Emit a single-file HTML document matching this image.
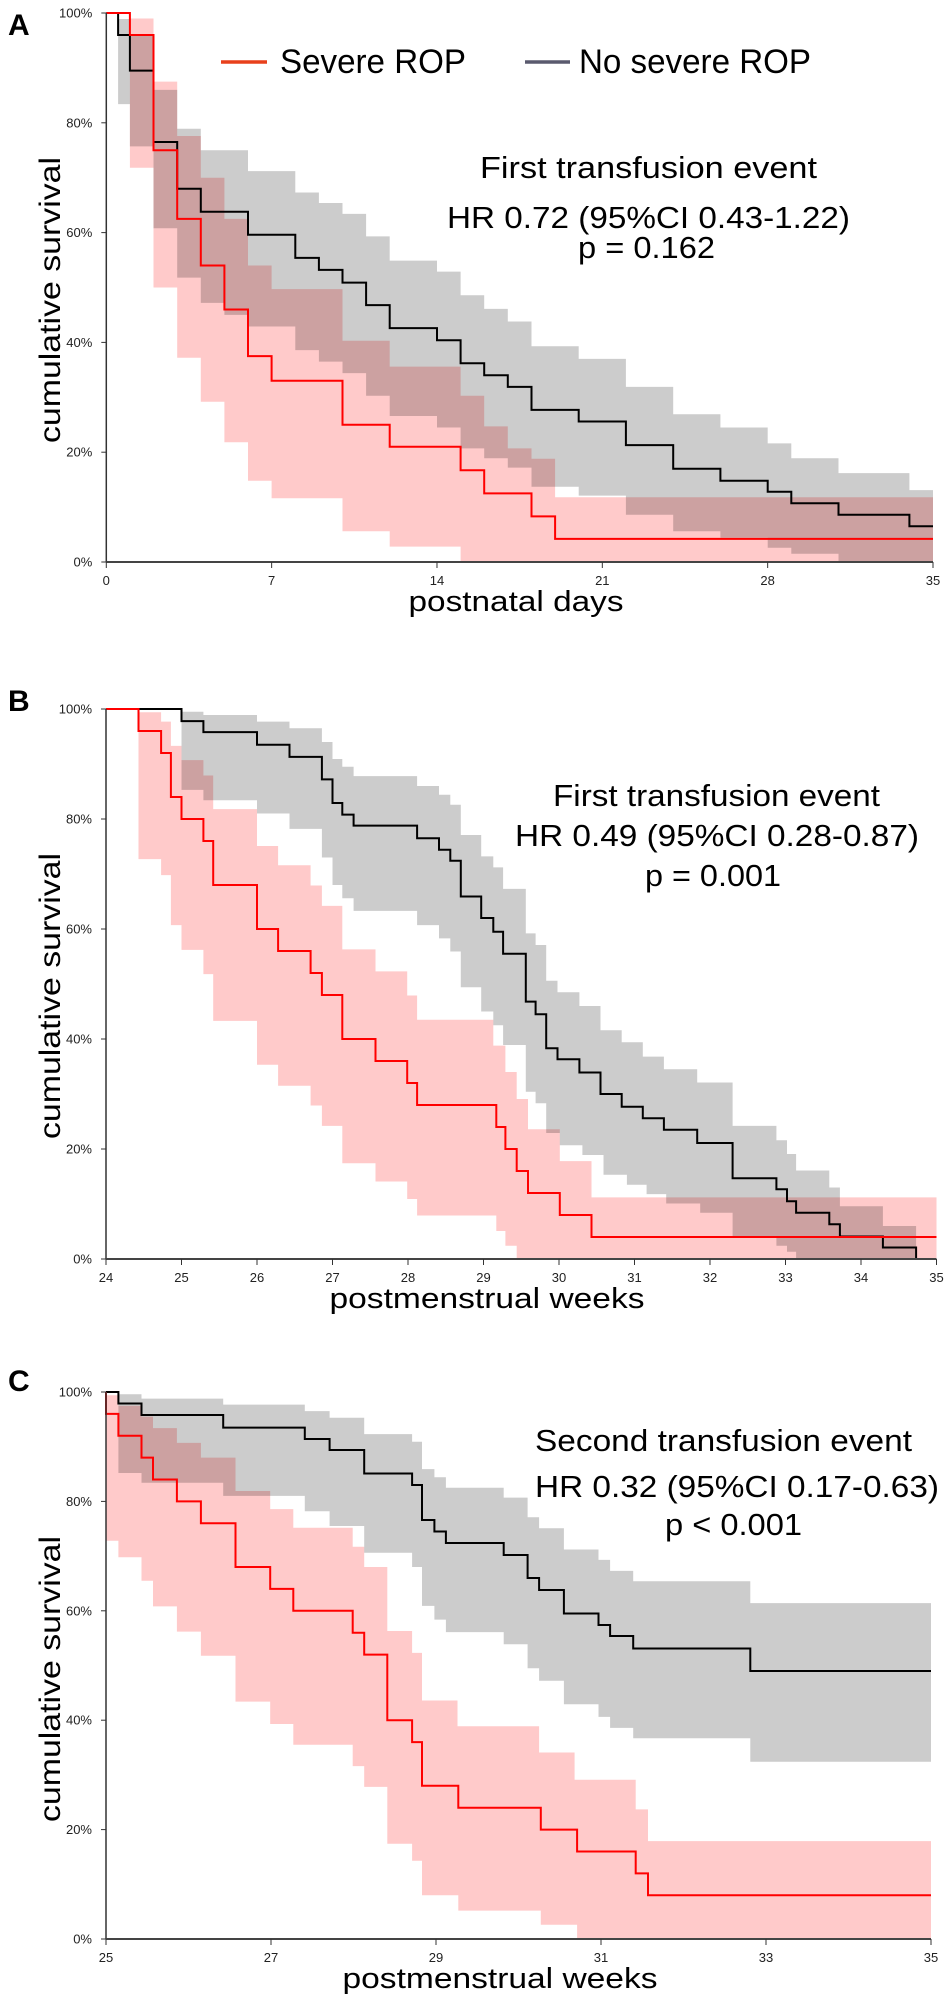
<!DOCTYPE html>
<html><head><meta charset="utf-8"><style>
html,body{margin:0;padding:0;background:#fff;}
svg{display:block;font-family:"Liberation Sans",Arial,sans-serif;}
.band-red{mix-blend-mode:multiply;}
</style></head><body>
<svg id="chart" width="945" height="2005" viewBox="0 0 945 2005" xmlns="http://www.w3.org/2000/svg">
<g id="layer-bands"></g>
<g id="layer-lines"></g>
<g id="layer-axes"></g>
<g id="layer-text">
  <text x="8" y="35" font-size="30" font-weight="bold">A</text>
  <text x="8" y="711" font-size="30" font-weight="bold">B</text>
  <text x="8" y="1391" font-size="30" font-weight="bold">C</text>
  <g>
    <line x1="221" y1="62" x2="267" y2="62" stroke="#e8401c" stroke-width="3.5"/>
    <text x="280" y="73" font-size="34" textLength="186" lengthAdjust="spacingAndGlyphs">Severe ROP</text>
    <line x1="525" y1="62" x2="570" y2="62" stroke="#5a5a6e" stroke-width="3.5"/>
    <text x="579" y="73" font-size="34" textLength="232" lengthAdjust="spacingAndGlyphs">No severe ROP</text>
  </g>
  <g font-size="31">
    <text x="480" y="178" textLength="337" lengthAdjust="spacingAndGlyphs">First  transfusion event</text>
    <text x="447" y="228" textLength="403" lengthAdjust="spacingAndGlyphs">HR 0.72 (95%CI 0.43-1.22)</text>
    <text x="578" y="258" textLength="137" lengthAdjust="spacingAndGlyphs">p = 0.162</text>
  </g>
  <g font-size="31">
    <text x="553" y="806" textLength="327" lengthAdjust="spacingAndGlyphs">First transfusion event</text>
    <text x="515" y="846" textLength="404" lengthAdjust="spacingAndGlyphs">HR 0.49 (95%CI 0.28-0.87)</text>
    <text x="645" y="886" textLength="136" lengthAdjust="spacingAndGlyphs">p = 0.001</text>
  </g>
  <g font-size="31">
    <text x="535" y="1451" textLength="377" lengthAdjust="spacingAndGlyphs">Second transfusion event</text>
    <text x="535" y="1497" textLength="404" lengthAdjust="spacingAndGlyphs">HR 0.32 (95%CI 0.17-0.63)</text>
    <text x="665" y="1535" textLength="137" lengthAdjust="spacingAndGlyphs">p &lt; 0.001</text>
  </g>
</g>
</svg>
<script>
// ---------- Panel A data (postnatal days) ----------
const aXTicks = [0, 7, 14, 21, 28, 35];
const aRedT = [0,1,2,3,4,5,6,7,10,12,15,16,18,19];
const aRedV = [100,96,75,62.5,54,46,37.5,33,25,21,16.7,12.5,8.3,4.2];
const aRedUpT = [0,1,2,3,4,5,6,7,10,12,15,16,17,18,19];
const aRedUpV = [100,99,87.5,77.6,70,62.5,54,49.7,40.3,35.6,30.3,24.7,20.7,18.8,11.8];
const aRedLoT = [0,1,2,3,4,5,6,7,10,12,15];
const aRedLoV = [100,71.8,50,37.2,29.2,21.8,14.8,11.6,5.6,2.8,0];
const aGrayT = [0,0.5,1,2,3,4,6,8,9,10,11,12,14,15,16,17,18,20,22,24,26,28,29,31,34];
const aGrayV = [100,96,89.5,76.5,68,63.8,59.6,55.4,53.2,50.9,46.8,42.6,40.4,36.2,34,31.9,27.7,25.6,21.3,17,14.8,12.8,10.7,8.6,6.5];
const aGrayUpT = [0,0.5,1,2,3,4,6,8,9,10,11,12,14,15,16,17,18,20,22,24,26,28,29,31,34];
const aGrayUpV = [100,98.9,96,86,78.9,75,71.2,67.3,65.4,63.4,59.3,54.9,52.9,48.6,46.1,43.8,39.3,37,31.9,26.9,24.5,21.6,18.9,16.2,13.1];
const aGrayLoT = [0,0.5,1,2,3,4,5,6,8,9,10,11,12,14,15,16,17,18,19,20,22,24,26,28,29,31];
const aGrayLoV = [100,83.4,75.7,60.8,51.8,47.2,45,42.9,38.6,36.5,34.4,30.3,26.6,24.5,20.7,18.9,17.2,13.7,13.7,12.1,8.6,5.6,4.4,2.6,1.5,0];

// ---------- Panel B data (postmenstrual weeks) ----------
const bXTicks = [24,25,26,27,28,29,30,31,32,33,34,35];
const bRedT = [24,24.43,24.73,24.86,25.0,25.29,25.42,26.0,26.28,26.71,26.86,27.13,27.57,27.99,28.12,29.17,29.29,29.44,29.59,30.01,30.43];
const bRedV = [100,96,92,84,80,76,68,60,56,52,48,40,36,32,28,24,20,16,12,8,4];
const bRedUpT = [24,24.43,24.73,24.86,25.0,25.29,25.42,26.0,26.28,26.71,26.86,27.13,27.57,27.99,28.12,29.13,29.29,29.44,29.59,30.01,30.43];
const bRedUpV = [100,99.4,97.7,93.3,90.7,87.9,81.8,75.1,71.6,67.9,64.2,56.3,52.3,47.9,43.5,38.8,34,29.1,23.6,17.8,11.2];
const bRedLoT = [24,24.43,24.73,24.86,25.0,25.29,25.42,26.0,26.28,26.71,26.86,27.13,27.57,27.99,28.12,29.17,29.29,29.44];
const bRedLoV = [100,72.7,69.8,60.7,56.2,51.8,43.3,35.3,31.5,27.9,24.2,17.4,14.1,10.9,7.9,5.1,2.4,0];
const bGrayT = [24,25.0,25.29,26.0,26.43,26.86,27.0,27.13,27.28,28.12,28.41,28.56,28.70,28.97,29.13,29.26,29.56,29.69,29.83,29.98,30.27,30.55,30.83,31.11,31.39,31.83,32.30,32.88,33.02,33.14,33.58,33.72,34.29,34.73];
const bGrayV = [100,97.8,95.8,93.5,91.3,87.2,82.9,80.8,78.8,76.5,74.4,72.4,65.9,62.0,59.5,55.5,46.8,44.5,38.3,36.3,33.9,30,27.7,25.6,23.5,21.1,14.7,12.7,10.5,8.4,6.3,4.1,2.1,0];
const bGrayUpT = [24,25.0,25.29,26.0,26.43,26.86,27.0,27.13,27.28,28.12,28.41,28.56,28.70,28.97,29.13,29.26,29.56,29.69,29.83,29.98,30.27,30.55,30.83,31.11,31.39,31.83,32.30,32.88,33.02,33.14,33.58,33.72,34.29,34.73];
const bGrayUpV = [100,99.5,98.9,97.7,96.5,94,90.9,89.5,87.8,86,84.4,82.6,77.1,73.2,71.2,67.3,59.2,57.1,50.6,48.5,46,41.6,39.4,36.8,34.5,32.1,24.2,21.6,19.1,16.1,13,9.6,6,0];
const bGrayLoT = [24,25.0,25.29,26.0,26.43,26.86,27.0,27.13,27.28,28.12,28.41,28.56,28.70,28.97,29.13,29.26,29.56,29.69,29.83,30.01,30.31,30.59,30.90,31.16,31.42,31.87,32.30,32.88,33.02,33.14];
const bGrayLoV = [100,85.3,83.4,81,78.2,73,68,65.6,63.3,60.7,58.3,55.9,49.4,45,42.5,38.9,30.4,28.3,22.9,20.7,18.9,15.3,13.5,11.8,10.1,8.4,4.1,2.4,1.3,0];

// ---------- Panel C data (postmenstrual weeks) ----------
const cXTicks = [25,27,29,31,33,35];
const cRedT = [25,25,25.15,25.43,25.57,25.86,26.15,26.57,26.99,27.27,27.99,28.13,28.41,28.71,28.83,29.27,30.27,30.71,31.42,31.57];
const cRedV = [100,96,92,88,84,80,76,68,64,60,56,52,40,36,28,24,20,16,12,8];
const cRedUpT = [25,25.15,25.43,25.57,25.86,26.15,26.57,26.99,27.27,27.99,28.13,28.41,28.71,28.83,29.26,30.25,30.68,31.42,31.57];
const cRedUpV = [99.4,97.5,95.5,93.4,90.7,88,81.9,78.6,75.2,71.7,68,56.3,52.3,43.6,38.9,34.1,29.1,23.7,17.9];
const cRedLoT = [25,25.15,25.43,25.57,25.86,26.15,26.57,26.99,27.27,27.99,28.13,28.41,28.71,28.83,29.27,30.27,30.71];
const cRedLoV = [72.8,69.8,65.5,60.8,56.2,51.8,43.4,39.3,35.5,31.6,27.8,17.4,14.3,8.0,5.2,2.6,0];
const cGrayT = [25,25.15,25.43,26.42,27.41,27.71,28.13,28.71,28.83,28.98,29.12,29.82,30.11,30.25,30.55,30.97,31.11,31.39,32.81];
const cGrayV = [100,97.9,95.8,93.5,91.4,89.4,85.1,83,76.6,74.5,72.4,70.2,66,63.8,59.5,57.4,55.4,53.1,49];
const cGrayUpT = [25,25.15,25.43,26.42,27.41,27.71,28.13,28.71,28.83,28.98,29.12,29.82,30.11,30.25,30.55,30.97,31.11,31.39,32.81];
const cGrayUpV = [100,99.6,98.8,97.7,96.5,95.3,92.3,90.9,85.9,84.4,82.5,80.7,77.1,75.1,71.2,69.3,67.3,65.4,61.4];
const cGrayLoT = [25,25.15,25.43,26.42,27.41,27.71,28.13,28.71,28.83,28.98,29.12,29.82,30.11,30.25,30.55,30.97,31.11,31.39,32.81];
const cGrayLoV = [100,85.2,83.4,81,78.2,75.5,70.6,68,60.9,58.4,56.1,53.9,49.5,47.2,42.9,40.6,38.6,36.7,32.4];

const yTicks = [0,20,40,60,80,100];

const NS = "http://www.w3.org/2000/svg";
const gBands = document.getElementById('layer-bands');
const gLines = document.getElementById('layer-lines');
const gAxes = document.getElementById('layer-axes');

function stepPts(T, V, tEnd) {
  const pts = [];
  for (let i = 0; i < T.length; i++) {
    const t1 = i < T.length - 1 ? T[i + 1] : tEnd;
    pts.push([T[i], V[i]], [t1, V[i]]);
  }
  return pts;
}

function panel(p) {
  const sx = t => p.x0 + (t - p.tMin) * (p.x1 - p.x0) / (p.tMax - p.tMin);
  const sy = v => p.y0 - v * (p.y0 - p.y100) / 100;
  const fmt = pts => pts.map(q => sx(q[0]).toFixed(1) + ',' + sy(q[1]).toFixed(1)).join(' ');

  // bands
  const grayPoly = stepPts(p.gUpT, p.gUpV, p.gEnd).concat(stepPts(p.gLoT, p.gLoV, p.gEnd).reverse());
  const gb = document.createElementNS(NS, 'polygon');
  gb.setAttribute('points', fmt(grayPoly));
  gb.setAttribute('fill', '#cccccc');
  
  
  gBands.appendChild(gb);
  const redPoly = stepPts(p.rUpT, p.rUpV, p.rEnd).concat(stepPts(p.rLoT, p.rLoV, p.rEnd).reverse());
  const rb = document.createElementNS(NS, 'polygon');
  rb.setAttribute('points', fmt(redPoly));
  rb.setAttribute('fill', '#ffcaca');
  rb.setAttribute('class', 'band-red');
  
  
  gBands.appendChild(rb);

  // lines
  const gPts = stepPts(p.gT, p.gV, p.gLineEnd);
  const gl = document.createElementNS(NS, 'polyline');
  gl.setAttribute('points', fmt(gPts));
  gl.setAttribute('fill', 'none');
  gl.setAttribute('stroke', '#000');
  gl.setAttribute('stroke-width', '2');
  
  
  gLines.appendChild(gl);
  const rPts = stepPts(p.rT, p.rV, p.rEnd);
  const rl = document.createElementNS(NS, 'polyline');
  rl.setAttribute('points', fmt(rPts));
  rl.setAttribute('fill', 'none');
  rl.setAttribute('stroke', '#ff0000');
  rl.setAttribute('stroke-width', '2');
  
  
  gLines.appendChild(rl);

  // axes
  const ya = document.createElementNS(NS, 'line');
  ya.setAttribute('x1', p.x0); ya.setAttribute('x2', p.x0);
  ya.setAttribute('y1', p.y100); ya.setAttribute('y2', p.y0);
  ya.setAttribute('stroke', '#333'); ya.setAttribute('stroke-width', '1.5');
  
  
  gAxes.appendChild(ya);
  const xa = document.createElementNS(NS, 'line');
  xa.setAttribute('x1', p.x0); xa.setAttribute('x2', p.x1);
  xa.setAttribute('y1', p.y0); xa.setAttribute('y2', p.y0);
  xa.setAttribute('stroke', '#444'); xa.setAttribute('stroke-width', '2');
  
  
  gAxes.appendChild(xa);

  yTicks.forEach(v => {
    const y = sy(v);
    const tk = document.createElementNS(NS, 'line');
    tk.setAttribute('x1', p.x0 - 5); tk.setAttribute('x2', p.x0);
    tk.setAttribute('y1', y); tk.setAttribute('y2', y);
    tk.setAttribute('stroke', '#333'); tk.setAttribute('stroke-width', '1');
    
    
    gAxes.appendChild(tk);
    const tx = document.createElementNS(NS, 'text');
    tx.setAttribute('x', p.x0 - 14); tx.setAttribute('y', y + 4.5);
    tx.setAttribute('text-anchor', 'end'); tx.setAttribute('font-size', '13');
    tx.setAttribute('fill', '#222');
    
    
    tx.textContent = v + '%';
    gAxes.appendChild(tx);
  });
  p.xTicks.forEach(t => {
    const x = sx(t);
    const tk = document.createElementNS(NS, 'line');
    tk.setAttribute('x1', x); tk.setAttribute('x2', x);
    tk.setAttribute('y1', p.y0); tk.setAttribute('y2', p.y0 + 6);
    tk.setAttribute('stroke', '#333'); tk.setAttribute('stroke-width', '1');
    
    
    gAxes.appendChild(tk);
    const tx = document.createElementNS(NS, 'text');
    tx.setAttribute('x', x); tx.setAttribute('y', p.y0 + 23);
    tx.setAttribute('text-anchor', 'middle'); tx.setAttribute('font-size', '13');
    tx.setAttribute('fill', '#222');
    
    
    tx.textContent = t;
    gAxes.appendChild(tx);
  });
  const xt = document.createElementNS(NS, 'text');
  xt.setAttribute('x', p.xTitleX); xt.setAttribute('y', p.y0 + 49);
  xt.setAttribute('text-anchor', 'middle'); xt.setAttribute('font-size', '29');
  xt.setAttribute('textLength', p.xTitleLen); xt.setAttribute('lengthAdjust', 'spacingAndGlyphs');
  
  
  xt.textContent = p.xTitle;
  gAxes.appendChild(xt);
  const yt = document.createElementNS(NS, 'text');
  const cy = p.y100 + 287;
  yt.setAttribute('x', 0); yt.setAttribute('y', 0);
  yt.setAttribute('transform', 'translate(60,' + cy + ') rotate(-90)');
  yt.setAttribute('text-anchor', 'middle'); yt.setAttribute('font-size', '30');
  yt.setAttribute('textLength', '286'); yt.setAttribute('lengthAdjust', 'spacingAndGlyphs');
  
  
  yt.textContent = 'cumulative survival';
  gAxes.appendChild(yt);
}

panel({id:'panel-a', x0:106.3, x1:933, tMin:0, tMax:35, y100:13, y0:562, xTicks:aXTicks,
  rT:aRedT, rV:aRedV, rUpT:aRedUpT, rUpV:aRedUpV, rLoT:aRedLoT, rLoV:aRedLoV, rEnd:35,
  gT:aGrayT, gV:aGrayV, gUpT:aGrayUpT, gUpV:aGrayUpV, gLoT:aGrayLoT, gLoV:aGrayLoV, gEnd:35, gLineEnd:35,
  xTitle:'postnatal days', xTitleX:516, xTitleLen:215});
panel({id:'panel-b', x0:106, x1:936.5, tMin:24, tMax:35, y100:709, y0:1259, xTicks:bXTicks,
  rT:bRedT, rV:bRedV, rUpT:bRedUpT, rUpV:bRedUpV, rLoT:bRedLoT, rLoV:bRedLoV, rEnd:35,
  gT:bGrayT, gV:bGrayV, gUpT:bGrayUpT, gUpV:bGrayUpV, gLoT:bGrayLoT, gLoV:bGrayLoV, gEnd:34.73, gLineEnd:34.73,
  xTitle:'postmenstrual weeks', xTitleX:487, xTitleLen:315});
panel({id:'panel-c', x0:106, x1:931, tMin:25, tMax:35, y100:1392, y0:1939, xTicks:cXTicks,
  rT:cRedT, rV:cRedV, rUpT:cRedUpT, rUpV:cRedUpV, rLoT:cRedLoT, rLoV:cRedLoV, rEnd:35,
  gT:cGrayT, gV:cGrayV, gUpT:cGrayUpT, gUpV:cGrayUpV, gLoT:cGrayLoT, gLoV:cGrayLoV, gEnd:35, gLineEnd:35,
  xTitle:'postmenstrual weeks', xTitleX:500, xTitleLen:315});
</script>
</body></html>
